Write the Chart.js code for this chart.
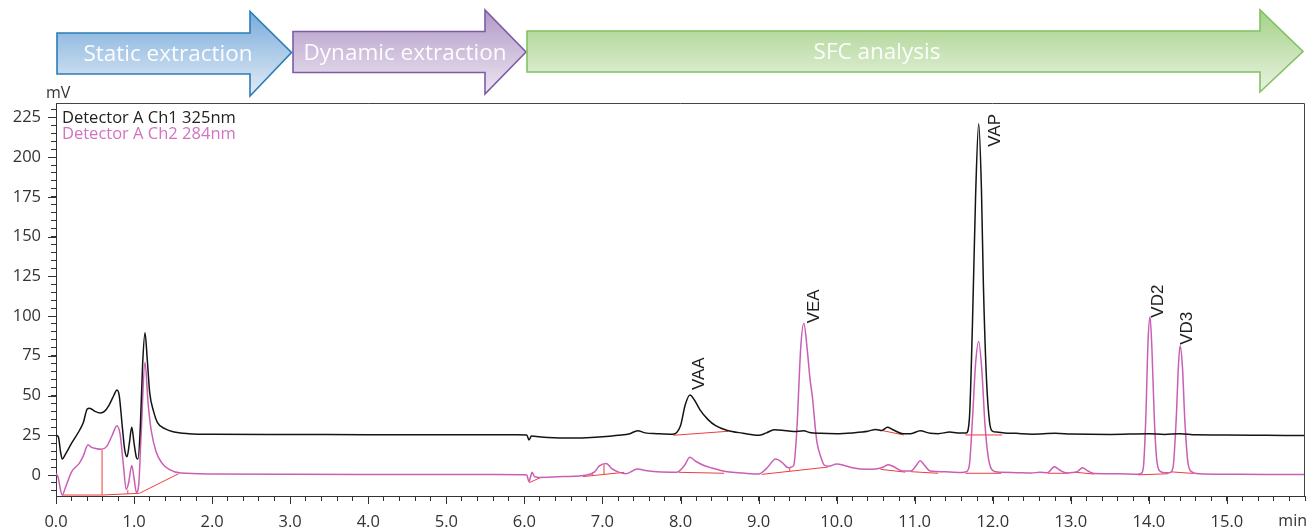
<!DOCTYPE html>
<html><head><meta charset="utf-8">
<script src="https://cdn.jsdelivr.net/npm/chart.js@4.4.1/dist/chart.umd.min.js"></script>
<style>
html,body{margin:0;padding:0;background:#fff;overflow:hidden}
#wrap{position:relative;width:1308px;height:528px}
#c{position:absolute;left:0;top:0}
#arrows{position:absolute;left:0;top:0}
</style></head><body>
<div id="wrap">
<canvas id="c" width="1308" height="528"></canvas>
<svg id="arrows" width="1308" height="100" xmlns="http://www.w3.org/2000/svg">
  <defs>
    <linearGradient id="gBlue" x1="0" y1="0" x2="0" y2="1">
      <stop offset="0" stop-color="#79acdb"/><stop offset="1" stop-color="#e3ecf5"/>
    </linearGradient>
    <linearGradient id="gPurple" x1="0" y1="0" x2="0" y2="1">
      <stop offset="0" stop-color="#b299c7"/><stop offset="1" stop-color="#ece6f2"/>
    </linearGradient>
    <linearGradient id="gGreen" x1="0" y1="0" x2="0" y2="1">
      <stop offset="0" stop-color="#a5d188"/><stop offset="1" stop-color="#e9f3e2"/>
    </linearGradient>
  </defs>
  <path d="M57,33 L250,33 L250,11.5 L291.5,52.5 L250,96 L250,74 L57,74 Z" fill="url(#gBlue)" stroke="#2b7cb9" stroke-width="1.6"/>
  <path d="M293,31.5 L485,31.5 L485,10 L526,52 L485,94 L485,72.5 L293,72.5 Z" fill="url(#gPurple)" stroke="#7d5ca7" stroke-width="1.6"/>
  <path d="M527,31 L1260,31 L1260,10 L1303,51.5 L1260,92 L1260,72 L527,72 Z" fill="url(#gGreen)" stroke="#82c163" stroke-width="1.6"/>
  <text x="168" y="61" text-anchor="middle" font-family="Open Sans" font-size="22.5" fill="#ffffff" fill-opacity="0.95">Static extraction</text>
  <text x="405" y="60" text-anchor="middle" font-family="Open Sans" font-size="22.5" fill="#ffffff" fill-opacity="0.95">Dynamic extraction</text>
  <text x="877" y="59" text-anchor="middle" font-family="Open Sans" font-size="22.5" fill="#ffffff" fill-opacity="0.95">SFC analysis</text>
</svg>
</div>
<script>
// ---- Detector A Ch1 325nm (black trace): time (min) / signal (mV)
const ch1Time = [0.00,0.03,0.06,0.08,0.12,0.20,0.30,0.35,0.40,0.43,0.50,0.57,0.62,0.68,0.74,0.78,0.81,0.85,0.88,0.91,0.94,0.97,1.00,1.03,1.05,1.08,1.11,1.14,1.17,1.20,1.25,1.30,1.40,1.50,1.70,2.00,3.00,4.00,5.00,5.90,6.03,6.06,6.09,6.20,6.50,6.80,7.00,7.20,7.35,7.45,7.55,7.70,7.90,8.00,8.06,8.12,8.18,8.25,8.35,8.45,8.60,8.80,9.00,9.10,9.20,9.30,9.45,9.58,9.65,9.80,10.00,10.20,10.40,10.50,10.58,10.65,10.72,10.85,10.95,11.07,11.20,11.30,11.45,11.55,11.66,11.70,11.74,11.78,11.82,11.855,11.88,11.92,11.96,12.00,12.05,12.15,12.30,12.50,12.80,13.00,13.50,14.00,14.20,14.40,14.60,15.00,15.50,16.00];
const ch1Signal = [25,24,14,10,13,20,28,33,41.5,42,40,39,40,44,50,53.5,50,30,16,11.5,20,30,20,11,10,30,70,89.5,72,52,40,33,29,27.2,26,25.6,25.5,25.4,25.4,25.3,25.2,22,24.5,24,23.3,23.5,24,25,26,27.9,26.5,26,25.6,31,44,50.3,47,41,35,31,28,26.3,25,26.5,28.5,28.2,27.3,27.8,26.8,26.2,26,26.5,27.5,28.7,28,30,28.5,26,26,27.8,26.2,26,27,26.5,26.5,35,95,175,221,180,120,60,33,27.5,27,26.5,26.2,25.7,26.2,25.8,25.5,26,25.5,26,25.3,25.2,25,24.8];

// ---- Detector A Ch2 284nm (pink trace)
const ch2Time = [0.00,0.03,0.06,0.08,0.12,0.20,0.30,0.35,0.41,0.45,0.50,0.58,0.65,0.72,0.78,0.82,0.86,0.90,0.93,0.97,1.00,1.03,1.06,1.09,1.14,1.18,1.22,1.28,1.35,1.45,1.60,2.00,3.00,4.00,5.00,6.00,6.03,6.06,6.08,6.10,6.13,6.20,6.50,6.80,6.90,6.96,7.05,7.12,7.20,7.30,7.45,7.55,7.70,7.95,8.05,8.12,8.20,8.30,8.40,8.60,8.80,9.00,9.10,9.22,9.30,9.38,9.42,9.45,9.49,9.51,9.54,9.58,9.62,9.66,9.69,9.73,9.75,9.80,9.84,9.90,10.00,10.10,10.20,10.40,10.50,10.60,10.66,10.72,10.85,10.95,11.02,11.07,11.12,11.20,11.40,11.60,11.66,11.70,11.74,11.78,11.82,11.86,11.90,11.94,11.98,12.04,12.10,12.30,12.50,12.60,12.70,12.79,12.86,12.95,13.08,13.15,13.22,13.30,13.60,13.86,13.90,13.93,13.96,13.99,14.015,14.04,14.07,14.10,14.14,14.20,14.25,14.27,14.31,14.35,14.38,14.40,14.43,14.46,14.50,14.55,14.65,15.00,15.50,16.00];
const ch2Signal = [1,-2,-10,-12.6,-8,2,7.5,12,19,17.5,16.8,16.2,18,25,31,26,8,-9,-5,6,-2,-11,-6,25,71,45,28,15,8,3.5,1.2,0.7,0.5,0.4,0.4,0.2,0,-4.2,-1,1.7,-1,-1.5,-1,0,2,5.7,7.3,4,2,0.8,3.8,2.8,2,1.7,6,11.1,8.5,6,4.4,2,1.2,0.6,4,10,8,4.6,5,6,28,49,80,95.4,80.7,60,49,28,20,11,6.3,5.5,6.9,6,4.6,3.6,3.8,5,6.5,5.5,2.5,2.5,6,9,6.5,2.5,2,1.6,2,6,35,70,84,66,32,12,4,2,1.8,1.5,1.2,1.8,1.5,5.2,3,1.3,2,4.6,2.5,1,0.8,0.5,1,5,35,85,99.6,78,35,10,2.5,1.4,1.4,1.5,5,35,70,81.3,68,35,8,2,0.8,0.5,0.3,0.3];

// ---- integration baselines (red): [t1, mV1, t2, mV2]
const ch1Baselines = [[7.91,25.0,8.61,27.5],[10.55,28.3,10.86,25.2],[11.65,25.2,12.12,25.2]];
const ch2Baselines = [[0.08,-12.6,0.59,-12.6],[0.59,-12.6,1.07,-11.5],[1.07,-11.5,1.57,0.8],[0.59,-12.6,0.59,15.8],[0.92,-11.9,0.92,-9.5],[6.065,-4.8,6.21,-1.5],[6.75,-1.0,7.28,1.7],[6.87,-0.4,6.87,1.5],[7.02,0.4,7.02,6.7],[7.98,1.7,8.56,1.1],[9.04,0.4,9.89,5.0],[9.40,2.4,9.40,5.0],[10.56,3.6,10.88,1.8],[10.95,2.1,11.30,1.1],[11.65,1.1,12.11,1.1],[12.71,1.1,12.97,1.1],[13.06,1.7,13.30,0.6],[13.86,0.1,14.25,0.8],[14.28,2.0,14.57,1.0]];

// ---- peak annotations
const peakNames = ['VAA','VEA','VAP','VD2','VD3'];
const peakTimes = [8.12,9.58,11.82,14.015,14.40];
const peakHeights = [50.3,95.4,221,99.6,81.3];

// ---- axis tick labels
const xTickLabels = ['0.0','1.0','2.0','3.0','4.0','5.0','6.0','7.0','8.0','9.0','10.0','11.0','12.0','13.0','14.0','15.0'];
const yTickLabels = [0,25,50,75,100,125,150,175,200,225];
const legendLabels = ['Detector A Ch1 325nm','Detector A Ch2 284nm'];

// ---- styles (kept out of the data)
const BLACK = '#141414', PINK = '#c95fb5', RED = '#ef3d3d', AXIS = '#333333';
const labelOffsets = [[14,-5],[15,0],[21,23],[13,1],[12,-1]];

const toXY = (t, v) => t.map((x, i) => ({x, y: v[i]}));
const segData = segs => segs.flatMap(s => [{x:s[0],y:s[1]},{x:s[2],y:s[3]},{x:s[2],y:null}]);

const decor = {
  id: 'decor',
  afterDraw(chart) {
    const ctx = chart.ctx, a = chart.chartArea, xs = chart.scales.x, ys = chart.scales.y;
    ctx.save();
    // frame top/right
    ctx.strokeStyle = '#444'; ctx.lineWidth = 1;
    ctx.beginPath();
    ctx.moveTo(a.left, a.top + 0.5); ctx.lineTo(a.right - 0.5, a.top + 0.5); ctx.lineTo(a.right - 0.5, a.bottom);
    ctx.stroke();
    // major ticks (longer)
    ctx.strokeStyle = AXIS;
    ctx.beginPath();
    xTickLabels.forEach(l => { const px = Math.round(xs.getPixelForValue(parseFloat(l))) + 0.5; ctx.moveTo(px, a.bottom); ctx.lineTo(px, a.bottom + 8); });
    yTickLabels.forEach(v => { const py = Math.round(ys.getPixelForValue(v)) + 0.5; ctx.moveTo(a.left - 8, py); ctx.lineTo(a.left, py); });
    ctx.stroke();
    // units
    ctx.fillStyle = AXIS;
    ctx.font = '16px "Open Sans"';
    ctx.textBaseline = 'alphabetic';
    ctx.textAlign = 'left';
    ctx.fillText('mV', a.left - 10, a.top - 5);
    ctx.textAlign = 'right';
    ctx.fillText('min', a.right + 2, 526);
    // legend text
    ctx.textAlign = 'left';
    ctx.font = '16.5px "Open Sans"';
    ctx.fillStyle = '#222';
    ctx.fillText(legendLabels[0], a.left + 6, a.top + 20);
    ctx.fillStyle = '#d173c0';
    ctx.fillText(legendLabels[1], a.left + 6, a.top + 36);
    // peak labels
    ctx.fillStyle = '#1e1e1e';
    ctx.font = '17px "Liberation Sans"';
    peakNames.forEach((n, i) => {
      const px = xs.getPixelForValue(peakTimes[i]) + labelOffsets[i][0];
      const py = ys.getPixelForValue(peakHeights[i]) + labelOffsets[i][1];
      ctx.save(); ctx.translate(px, py); ctx.rotate(-Math.PI / 2);
      ctx.textAlign = 'left'; ctx.fillText(n, 0, 0); ctx.restore();
    });
    ctx.restore();
  }
};

new Chart(document.getElementById('c'), {
  type: 'line',
  data: {
    datasets: [
      {label: legendLabels[0], data: toXY(ch1Time, ch1Signal), borderColor: BLACK, borderWidth: 1.5, pointRadius: 0, cubicInterpolationMode: 'monotone', order: 1},
      {label: legendLabels[1], data: toXY(ch2Time, ch2Signal), borderColor: PINK, borderWidth: 1.5, pointRadius: 0, cubicInterpolationMode: 'monotone', order: 3},
      {label: 'baseline1', data: segData(ch1Baselines), borderColor: RED, borderWidth: 1, pointRadius: 0, tension: 0, spanGaps: false, order: 2},
      {label: 'baseline2', data: segData(ch2Baselines), borderColor: RED, borderWidth: 1, pointRadius: 0, tension: 0, spanGaps: false, order: 4}
    ]
  },
  options: {
    responsive: false, animation: false, events: [],
    layout: {padding: {left: 0, top: 103, right: 3, bottom: 0}},
    plugins: {legend: {display: false}, tooltip: {enabled: false}},
    scales: {
      x: {
        type: 'linear', min: 0, max: 16,
        afterBuildTicks: s => { const t = []; for (let i = 0; i <= 80; i++) t.push({value: i / 5}); s.ticks = t; },
        afterFit: s => { s.height = 32; s.paddingLeft = 0; s.paddingRight = 0; },
        grid: {drawOnChartArea: false, drawTicks: true, tickLength: 5, color: AXIS},
        border: {color: AXIS, width: 1},
        ticks: {autoSkip: false, maxRotation: 0, padding: 11, color: AXIS, font: {family: 'Open Sans', size: 16.5},
          callback: v => { const r = Math.round(v); return (Math.abs(v - r) < 1e-6 && r <= 15) ? xTickLabels[r] : ''; }}
      },
      y: {
        type: 'linear', min: -13.2, max: 234,
        afterBuildTicks: s => { const t = []; for (let v = -10; v <= 230; v += 5) t.push({value: v}); s.ticks = t; },
        afterFit: s => { s.width = 56; s.paddingTop = 0; s.paddingBottom = 0; },
        grid: {drawOnChartArea: false, drawTicks: true, tickLength: 5, color: AXIS},
        border: {color: AXIS, width: 1},
        ticks: {autoSkip: false, padding: 10, color: AXIS, font: {family: 'Open Sans', size: 16.5},
          callback: v => yTickLabels.includes(v) ? String(v) : ''}
      }
    }
  },
  plugins: [decor]
});
</script>
</body></html>
